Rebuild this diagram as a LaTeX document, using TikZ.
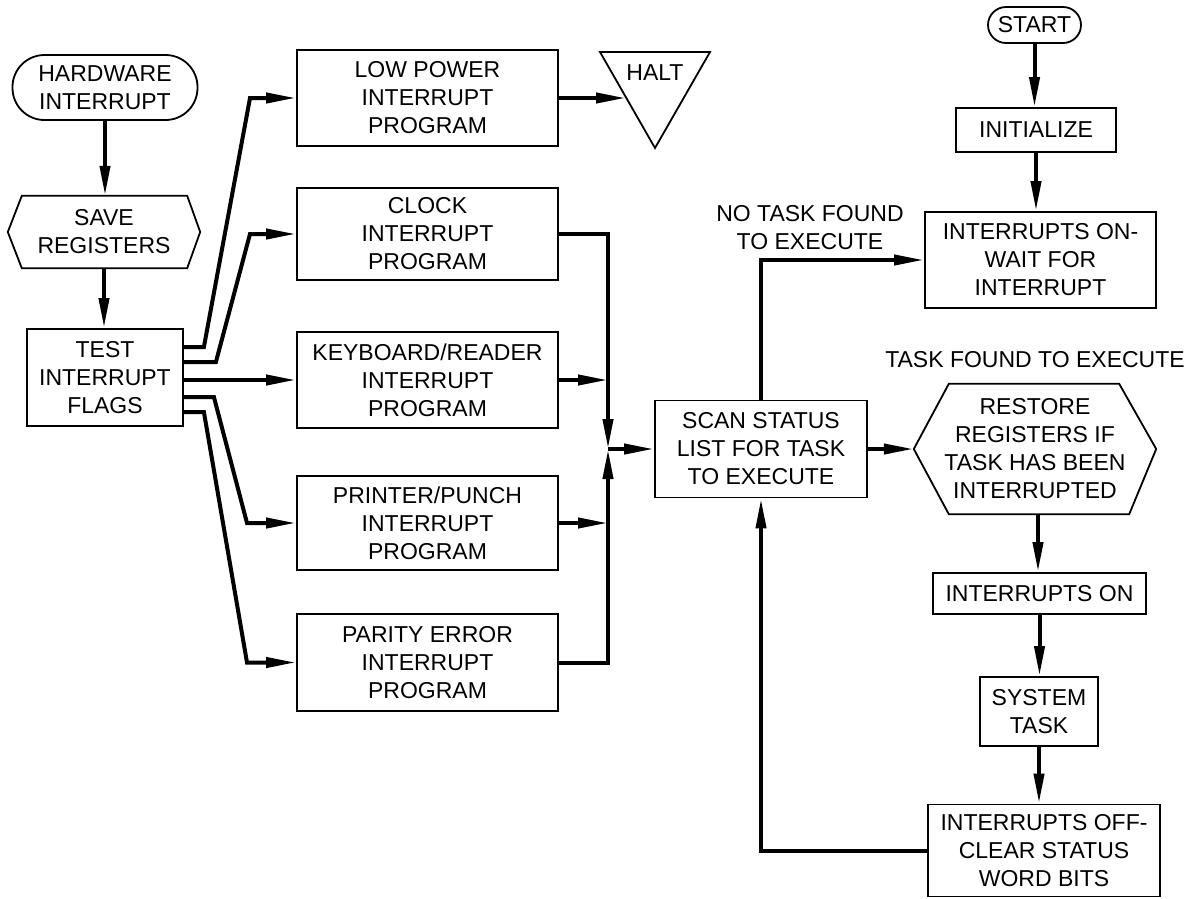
\documentclass[tikz,border=0pt]{standalone}
\usepackage{fontspec}
\setmainfont{Liberation Sans}
\usetikzlibrary{arrows.meta,calc}
\begin{document}
\begin{tikzpicture}[x=1pt,y=-1pt,
  lbl/.style={font=\fontsize{23}{28}\selectfont, align=center, inner sep=0pt},
  box/.style={lbl, draw, line width=1.8pt},
  outline/.style={line width=1.8pt, line join=miter},
  conn/.style={line width=4pt, -{Triangle[length=30pt,width=10pt]}, line join=miter}]
\useasboundingbox (0,0) rectangle (1194,898);

% left column
\node[box, minimum width=185pt, minimum height=65pt, rounded corners=32pt] (hw) at (105,87.5) {HARDWARE\\INTERRUPT};
\node[lbl, minimum width=192pt, minimum height=72pt] (save) at (104,232) {SAVE\\REGISTERS};
\draw[outline] (save.west) -- ([xshift=14pt]save.north west) -- ([xshift=-13pt]save.north east) -- (save.east)
  -- ([xshift=-13pt]save.south east) -- ([xshift=14pt]save.south west) -- cycle;
\node[box, minimum width=156pt, minimum height=97pt] (test) at (105,377.5) {TEST\\INTERRUPT\\FLAGS};

% middle column
\node[box, minimum width=261pt, minimum height=96pt] (lp) at (427.5,98) {LOW POWER\\INTERRUPT\\PROGRAM};
\node[box, minimum width=261pt, minimum height=92pt] (clk) at (427.5,234) {CLOCK\\INTERRUPT\\PROGRAM};
\node[box, minimum width=261pt, minimum height=96pt] (kb) at (427.5,380) {KEYBOARD/READER\\INTERRUPT\\PROGRAM};
\node[box, minimum width=261pt, minimum height=94pt] (pr) at (427.5,523) {PRINTER/PUNCH\\INTERRUPT\\PROGRAM};
\node[box, minimum width=261pt, minimum height=97pt] (par) at (427.5,662.5) {PARITY ERROR\\INTERRUPT\\PROGRAM};

% halt triangle
\coordinate (h1) at (600,52);
\coordinate (h2) at (710,52);
\coordinate (h3) at (655,148);
\draw[outline] (h1) -- (h2) -- (h3) -- cycle;
\node[lbl] (halt) at (655,73) {HALT};
\coordinate (hin) at (626,98);

% scan and right column
\node[box, minimum width=212pt, minimum height=97pt] (scan) at (761,449) {SCAN STATUS\\LIST FOR TASK\\TO EXECUTE};
\node[lbl, minimum width=242pt, minimum height=130pt] (restore) at (1035,449) {RESTORE\\REGISTERS IF\\TASK HAS BEEN\\INTERRUPTED};
\draw[outline] (restore.west) -- ([xshift=35pt]restore.north west) -- ([xshift=-37pt]restore.north east) -- (restore.east)
  -- ([xshift=-27pt]restore.south east) -- ([xshift=35pt]restore.south west) -- cycle;
\node[box, minimum width=213pt, minimum height=41pt] (ion) at (1039.5,593.5) {INTERRUPTS ON};
\node[box, minimum width=118pt, minimum height=69pt] (sys) at (1039,711.5) {SYSTEM\\TASK};
\node[box, minimum width=232pt, minimum height=92pt] (ioff) at (1044,850.5) {INTERRUPTS OFF-\\CLEAR STATUS\\WORD BITS};
\node[box, minimum width=93pt, minimum height=36pt, rounded corners=18pt] (start) at (1034.5,25) {START};
\node[box, minimum width=160pt, minimum height=44pt] (init) at (1036,130) {INITIALIZE};
\node[box, minimum width=231pt, minimum height=96pt] (wait) at (1040.5,260) {INTERRUPTS ON-\\WAIT FOR\\INTERRUPT};

% labels
\node[lbl] (notask) at (810,228) {NO TASK FOUND\\TO EXECUTE};
\node[lbl] (found) at (1035,360) {TASK FOUND TO EXECUTE};

% connectors left
\draw[conn] (hw.south) -- (hw.south |- save.north);
\draw[conn] (save.south) -- (save.south |- test.north);
\draw[conn] ([yshift=30.5pt]test.east) -- ++(20,0) -- (250,98) -- (lp.west);
\draw[conn] ([yshift=15.5pt]test.east) -- ++(32,0) -- (250,234) -- (clk.west);
\draw[conn] (test.east |- kb.west) -- (kb.west);
\draw[conn] ([yshift=-19.5pt]test.east) -- ++(30,0) -- (247,523) -- (pr.west);
\draw[conn] ([yshift=-34.5pt]test.east) -- ++(20,0) -- (247,662.5) -- (par.west);
\draw[conn] (lp.east) -- (lp.east -| hin);

% collector
\coordinate (j) at (608,449);
\draw[conn] (clk.east) -- (clk.east -| j) -- (j);
\draw[conn] (kb.east) -- (kb.east -| j);
\draw[conn] (pr.east) -- (pr.east -| j);
\draw[conn] (par.east) -- (par.east -| j) -- (j);
\draw[conn] (j) -- (scan.west);

% right side
\draw[conn] (scan.east) -- (restore.west);
\draw[conn] (restore.south) ++(3,0) coordinate (rs) -- (rs |- ion.north);
\draw[conn] (ion.south) -- (ion.south |- sys.north);
\draw[conn] (sys.south) -- (sys.south |- ioff.north);
\draw[conn] (ioff.west) -- (ioff.west -| scan.south) -- (scan.south);
\draw[conn] (scan.north) -- (scan.north |- wait.west) -- (wait.west);
\draw[conn] (start.south) -- (start.south |- init.north);
\draw[conn] (init.south) -- (init.south |- wait.north);
\end{tikzpicture}
\end{document}
